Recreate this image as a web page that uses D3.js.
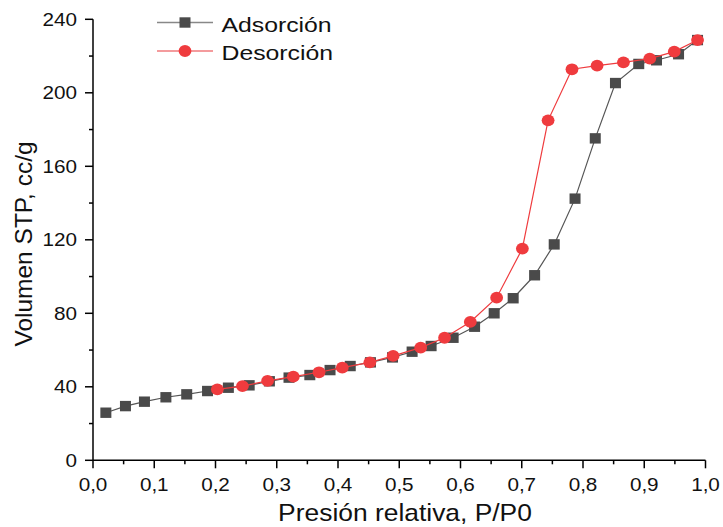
<!DOCTYPE html>
<html>
<head>
<meta charset="utf-8">
<script src="https://cdn.jsdelivr.net/npm/d3@7"></script>
<style>
  body { margin: 0; background: #fff; }
  text { font-family: "Liberation Sans", Arial, sans-serif; fill: #111; }
</style>
</head>
<body>
<div id="chart"></div>
<script>
// Adsorción (squares)
const adsX = [0.021, 0.053, 0.084, 0.119, 0.153, 0.187, 0.221, 0.255, 0.288, 0.320, 0.354, 0.387, 0.420, 0.453,
  0.489, 0.521, 0.552, 0.588, 0.623, 0.655, 0.686, 0.721, 0.753, 0.787, 0.820, 0.853, 0.891, 0.920, 0.956, 0.987];
const adsY = [25.9, 29.5, 31.9, 34.3, 35.9, 37.7, 39.5, 40.8, 43.0, 45.0, 46.4, 49.1, 51.3, 53.3,
  56.0, 59.1, 62.2, 66.7, 72.7, 80.0, 88.2, 100.7, 117.5, 142.4, 175.2, 205.3, 215.7, 217.7, 221.0, 228.7];

// Desorción (circles)
const desX = [0.203, 0.244, 0.285, 0.327, 0.369, 0.407, 0.452, 0.490, 0.535, 0.574, 0.616, 0.659,
  0.701, 0.743, 0.782, 0.823, 0.866, 0.909, 0.949, 0.987];
const desY = [38.6, 40.4, 43.2, 45.5, 47.9, 50.4, 53.3, 56.8, 61.3, 66.7, 75.3, 88.5,
  115.2, 185.0, 212.8, 214.8, 216.6, 218.6, 222.4, 228.7];

const xTicks = [0, 0.1, 0.2, 0.3, 0.4, 0.5, 0.6, 0.7, 0.8, 0.9, 1.0];
const yTicks = [0, 40, 80, 120, 160, 200, 240];
const seriesNames = ['Adsorción', 'Desorción'];

const width = 723, height = 527;
const colors = { ads: '#4a4a4a', adsLine: '#555', des: '#ef3b3e' };
const stretch = 1.15; // text in the original is a bit wide

const svg = d3.select('#chart').append('svg')
  .attr('width', width)
  .attr('height', height);

const x = d3.scaleLinear().domain([0, 1]).range([93, 705.5]);
const y = d3.scaleLinear().domain([0, 240]).range([460.3, 19.3]);

const fmt = d => d3.format('.1f')(d).replace('.', ',');

// minor ticks
const xMinor = d3.range(0.05, 1, 0.1);
const yMinor = d3.range(20, 240, 40);

const axisG = svg.append('g');
axisG.append('line')
  .attr('x1', x(0)).attr('x2', x(1)).attr('y1', y(0)).attr('y2', y(0))
  .attr('stroke', '#000').attr('stroke-width', 1.5);
axisG.append('line')
  .attr('x1', x(0)).attr('x2', x(0)).attr('y1', y(0)).attr('y2', y(240))
  .attr('stroke', '#000').attr('stroke-width', 1.5);

axisG.selectAll('.xt').data(xTicks).enter().append('line')
  .attr('x1', d => x(d)).attr('x2', d => x(d))
  .attr('y1', y(0)).attr('y2', y(0) + 8)
  .attr('stroke', '#000').attr('stroke-width', 1.5);
axisG.selectAll('.xm').data(xMinor).enter().append('line')
  .attr('x1', d => x(d)).attr('x2', d => x(d))
  .attr('y1', y(0)).attr('y2', y(0) + 4)
  .attr('stroke', '#000').attr('stroke-width', 1.5);
axisG.selectAll('.yt').data(yTicks).enter().append('line')
  .attr('x1', x(0) - 8).attr('x2', x(0))
  .attr('y1', d => y(d)).attr('y2', d => y(d))
  .attr('stroke', '#000').attr('stroke-width', 1.5);
axisG.selectAll('.ym').data(yMinor).enter().append('line')
  .attr('x1', x(0) - 4).attr('x2', x(0))
  .attr('y1', d => y(d)).attr('y2', d => y(d))
  .attr('stroke', '#000').attr('stroke-width', 1.5);

axisG.selectAll('.xl').data(xTicks).enter().append('text')
  .attr('transform', d => `translate(${x(d)},${y(0) + 30.4}) scale(${stretch},1)`)
  .attr('text-anchor', 'middle')
  .attr('font-size', 18)
  .text(fmt);
axisG.selectAll('.yl').data(yTicks).enter().append('text')
  .attr('transform', d => `translate(${x(0) - 16},${y(d) + 6.5}) scale(${stretch},1)`)
  .attr('text-anchor', 'end')
  .attr('font-size', 18)
  .text(d => d);

svg.append('text')
  .attr('transform', `translate(405, 521) scale(1.1,1)`)
  .attr('text-anchor', 'middle')
  .attr('font-size', 24)
  .text('Presión relativa, P/P0');
svg.append('text')
  .attr('transform', `translate(31.5, 244) rotate(-90)`)
  .attr('text-anchor', 'middle')
  .attr('font-size', 24.5)
  .text('Volumen STP, cc/g');

const line = d3.line().x(d => x(d[0])).y(d => y(d[1]));
const ads = adsX.map((v, i) => [v, adsY[i]]);
const des = desX.map((v, i) => [v, desY[i]]);

svg.append('path').datum(ads)
  .attr('d', line).attr('fill', 'none')
  .attr('stroke', colors.adsLine).attr('stroke-width', 1.2);
svg.selectAll('.sq').data(ads).enter().append('rect')
  .attr('x', d => x(d[0]) - 5.5).attr('y', d => y(d[1]) - 5.2)
  .attr('width', 11).attr('height', 10.4)
  .attr('fill', colors.ads);

svg.append('path').datum(des)
  .attr('d', line).attr('fill', 'none')
  .attr('stroke', colors.des).attr('stroke-width', 1.2);
svg.selectAll('.ci').data(des).enter().append('ellipse')
  .attr('cx', d => x(d[0])).attr('cy', d => y(d[1]))
  .attr('rx', 6.4).attr('ry', 5.9)
  .attr('fill', colors.des);

// legend
const legend = svg.append('g');
seriesNames.forEach((name, i) => {
  const ly = 22.5 + i * 28.5;
  const c = i === 0 ? colors.ads : colors.des;
  legend.append('line')
    .attr('x1', 157).attr('x2', 213).attr('y1', ly).attr('y2', ly)
    .attr('stroke', i === 0 ? '#888' : '#f07a7c').attr('stroke-width', 1.5);
  if (i === 0) {
    legend.append('rect').attr('x', 179.5).attr('y', ly - 5.2)
      .attr('width', 11).attr('height', 10.4).attr('fill', c);
  } else {
    legend.append('ellipse').attr('cx', 185).attr('cy', ly)
      .attr('rx', 6.4).attr('ry', 5.9).attr('fill', c);
  }
  legend.append('text')
    .attr('transform', `translate(221.5,${ly + 9.2}) scale(1.18,1)`)
    .attr('font-size', 21)
    .text(name);
});
</script>
</body>
</html>
